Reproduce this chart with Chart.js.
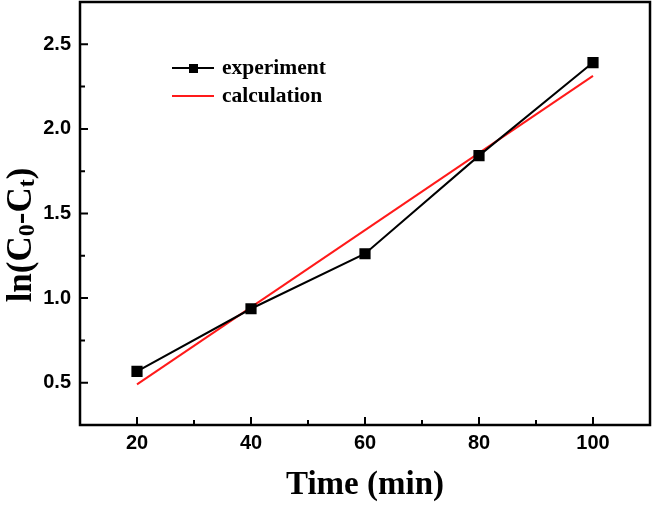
<!DOCTYPE html>
<html>
<head>
<meta charset="utf-8">
<script src="https://cdn.jsdelivr.net/npm/chart.js@4/dist/chart.umd.min.js"></script>
<style>
  html, body { margin: 0; padding: 0; background: #fff; }
  #wrap { width: 652px; height: 505px; }
</style>
</head>
<body>
<div id="wrap"><canvas id="chart" width="652" height="505"></canvas></div>
<script>
// data
const timeMin = [20, 40, 60, 80, 100];
const experiment = [0.567, 0.937, 1.262, 1.842, 2.392];
const calcX = [20, 100];
const calculation = [0.49, 2.313];
const xTicks = [20, 40, 60, 80, 100];
const yTicks = [0.5, 1.0, 1.5, 2.0, 2.5];

// frame, inward ticks, legend and y title
const decor = {
  id: "decor",
  afterDraw(chart) {
    const { ctx, chartArea: a, scales } = chart;
    const xs = scales.x, ys = scales.y;
    ctx.save();
    ctx.strokeStyle = "#000";
    ctx.lineWidth = 2.5;
    ctx.strokeRect(a.left, a.top, a.right - a.left, a.bottom - a.top);

    ctx.lineWidth = 2;
    ctx.beginPath();
    for (let v = 10; v <= 110; v += 10) {
      const px = xs.getPixelForValue(v);
      const len = v % 20 === 0 ? 8 : 5;
      ctx.moveTo(px, a.bottom);
      ctx.lineTo(px, a.bottom - len);
    }
    for (let v = 0.25; v <= 2.76; v += 0.25) {
      const py = ys.getPixelForValue(v);
      const len = Math.abs((v * 2) - Math.round(v * 2)) < 0.01 ? 8 : 5;
      ctx.moveTo(a.left, py);
      ctx.lineTo(a.left + len, py);
    }
    ctx.stroke();

    // legend
    const lx = 172, ly1 = 68, ly2 = 96;
    ctx.lineWidth = 2;
    ctx.strokeStyle = "#000";
    ctx.beginPath();
    ctx.moveTo(lx, ly1); ctx.lineTo(lx + 42, ly1);
    ctx.stroke();
    ctx.fillStyle = "#000";
    ctx.fillRect(lx + 17, ly1 - 4, 9, 9);
    ctx.strokeStyle = "#ff1a1a";
    ctx.beginPath();
    ctx.moveTo(lx, ly2); ctx.lineTo(lx + 42, ly2);
    ctx.stroke();
    ctx.fillStyle = "#000";
    ctx.font = "bold 21.5px 'Liberation Serif', 'Times New Roman', serif";
    ctx.textBaseline = "middle";
    ctx.textAlign = "left";
    ctx.fillText("experiment", lx + 50, ly1);
    ctx.fillText("calculation", lx + 50, ly2);

    // y title with subscripts
    ctx.translate(22, 235);
    ctx.rotate(-Math.PI / 2);
    const big = "bold 35px 'Liberation Serif', 'Times New Roman', serif";
    const small = "bold 24px 'Liberation Serif', 'Times New Roman', serif";
    const parts = [["ln(C", big, 0], ["0", small, 6], ["-C", big, 0], ["t", small, 6], [")", big, 0]];
    let w = 0;
    parts.forEach(p => { ctx.font = p[1]; w += ctx.measureText(p[0]).width; });
    let x = -w / 2;
    ctx.textBaseline = "middle";
    parts.forEach(p => {
      ctx.font = p[1];
      ctx.fillText(p[0], x, p[2]);
      x += ctx.measureText(p[0]).width;
    });
    ctx.restore();
  }
};

const noPad = (s) => { s.paddingTop = 0; s.paddingBottom = 0; s.paddingLeft = 0; s.paddingRight = 0; };

new Chart(document.getElementById("chart"), {
  type: "line",
  data: {
    datasets: [
      {
        label: "experiment",
        data: timeMin.map((t, i) => ({ x: t, y: experiment[i] })),
        borderColor: "#000",
        backgroundColor: "#000",
        borderWidth: 2,
        pointStyle: "rect",
        pointRadius: 6.5,
        pointHoverRadius: 6.5,
      },
      {
        label: "calculation",
        data: calcX.map((t, i) => ({ x: t, y: calculation[i] })),
        borderColor: "#ff1a1a",
        borderWidth: 2,
        pointRadius: 0,
      },
    ],
  },
  plugins: [decor],
  options: {
    responsive: false,
    animation: false,
    layout: { autoPadding: false, padding: { top: 2, right: 2, left: 0, bottom: 0 } },
    plugins: { legend: { display: false }, tooltip: { enabled: false } },
    scales: {
      x: {
        type: "linear",
        min: 10,
        max: 110,
        afterFit: (s) => { s.height = 80; noPad(s); },
        afterBuildTicks: (s) => { s.ticks = xTicks.map((v) => ({ value: v })); },
        grid: { display: false, drawTicks: false },
        border: { display: false },
        ticks: {
          padding: 6,
          color: "#000",
          font: { family: "'Liberation Sans', Arial, sans-serif", size: 20, weight: "bold" },
        },
        title: {
          display: true,
          text: "Time (min)",
          color: "#000",
          padding: { top: 12, bottom: 0 },
          font: { family: "'Liberation Serif', 'Times New Roman', serif", size: 33, weight: "bold" },
        },
      },
      y: {
        type: "linear",
        min: 0.25,
        max: 2.75,
        afterFit: (s) => { s.width = 80; noPad(s); },
        afterBuildTicks: (s) => { s.ticks = yTicks.map((v) => ({ value: v })); },
        grid: { display: false, drawTicks: false },
        border: { display: false },
        ticks: {
          padding: 9,
          color: "#000",
          callback: (v) => Number(v).toFixed(1),
          font: { family: "'Liberation Sans', Arial, sans-serif", size: 20, weight: "bold" },
        },
      },
    },
  },
});
</script>
</body>
</html>
